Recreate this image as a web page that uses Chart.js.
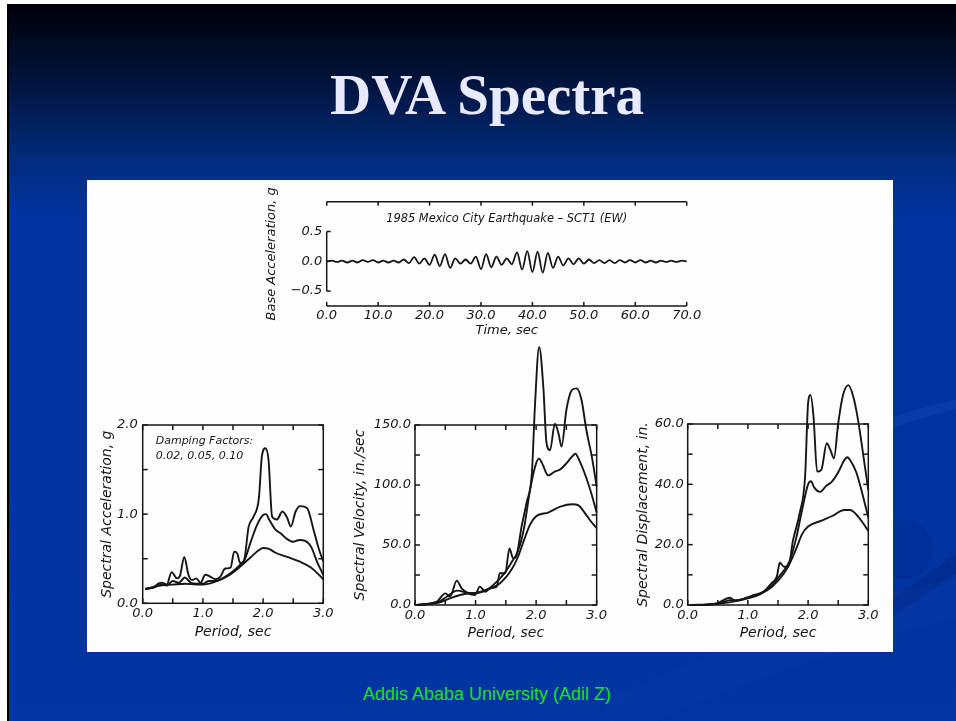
<!DOCTYPE html>
<html>
<head>
<meta charset="utf-8">
<title>DVA Spectra</title>
<script src="https://cdn.jsdelivr.net/npm/chart.js@4.4.1/dist/chart.umd.min.js"></script>
<style>
  html, body { margin: 0; padding: 0; width: 956px; height: 721px; overflow: hidden; background: #ffffff; }
  #slide {
    position: absolute; left: 7px; top: 4px; width: 947px; height: 717px;
    border-left: 2px solid #000;
    background: linear-gradient(to bottom, #00000a 0px, #010d28 50px, #021a4e 100px, #03276f 140px, #032f8a 175px, #0233a0 215px, #0234a2 100%);
    overflow: hidden;
  }
  #deco { position: absolute; left: 0; top: 0; }
  #title {
    position: absolute; left: 9px; top: 62px; width: 956px; line-height: 60px;
    text-align: center; font: bold 57px 'Liberation Serif', 'Times New Roman', serif; color: #e9e9ff;
  }
  #panel { position: absolute; left: 87px; top: 180px; width: 806px; height: 472px; background: #fefefe; }
  #footer {
    position: absolute; left: 9px; top: 684px; width: 956px; line-height: 20px;
    text-align: center; font: 18px 'Liberation Sans', Arial, sans-serif; color: #1fe01f;
  }
  canvas { position: absolute; }
</style>
</head>
<body>
<div id="slide">
  <svg id="deco" width="947" height="717">
    <path d="M 880 420 Q 920 405 960 398" stroke="rgba(60,100,200,0.15)" stroke-width="10" fill="none"/>
    <path d="M 870 610 Q 915 585 960 550" stroke="rgba(0,25,110,0.3)" stroke-width="16" fill="none"/>
    <ellipse cx="895" cy="545" rx="28" ry="30" fill="rgba(0,30,120,0.2)"/>
    <path d="M 600 717 Q 760 640 960 590" stroke="rgba(40,80,190,0.1)" stroke-width="40" fill="none"/>
  </svg>
</div>
<div id="title">DVA Spectra</div>
<div id="panel"></div>
<canvas id="cBase" width="443" height="165" style="left:262px; top:178px;"></canvas>
<canvas id="cSa" width="245" height="240" style="left:92px; top:405px;"></canvas>
<canvas id="cSv" width="265" height="310" style="left:345px; top:335px;"></canvas>
<canvas id="cSd" width="272" height="275" style="left:618px; top:370px;"></canvas>
<div id="footer">Addis Ababa University (Adil Z)</div>

<script>
// ---------- Ground motion record: 1985 Mexico City, SCT1 (EW) ----------
const accelTime = [0,1,2,3,4,5,6,7,8,9,10,11,12,13,14,15,16,17,18,19,20,21,22,23,24,25,26,27,28,29,30,31,32,33,34,35,36,37,38,39,40,41,42,43,44,45,46,47,48,49,50,51,52,53,54,55,56,57,58,59,60,61,62,63,64,65,66,67,68,69,70];
const accelValue = [0,0.01,-0.01,0.01,-0.02,0.01,-0.02,0.02,-0.01,0.02,-0.02,0.01,-0.02,0.01,-0.02,0.03,-0.03,0.07,-0.04,0.05,-0.06,0.11,-0.08,0.12,-0.11,0.05,-0.04,0.03,-0.04,0.08,-0.13,0.12,-0.10,0.08,-0.06,0.05,-0.05,0.15,-0.14,0.17,-0.18,0.16,-0.19,0.14,-0.11,0.08,-0.07,0.05,-0.05,0.05,-0.04,0.03,-0.03,0.02,-0.03,0.02,-0.03,0.02,-0.02,0.02,-0.02,0.02,-0.02,0.01,-0.02,0.01,-0.01,0.01,-0.01,0.01,0];
const timeTicks = [0,10,20,30,40,50,60,70];
const accelTicks = [-0.5,0,0.5];

// ---------- Response spectra, damping 0.02 / 0.05 / 0.10 ----------
const periodTicks = [0,0.5,1,1.5,2,2.5,3];
const periodLabels = [0,1,2,3];

// Spectral acceleration, g
const saT02 = [0.04,0.18,0.26,0.32,0.40,0.48,0.57,0.62,0.69,0.76,0.82,0.89,0.96,1.04,1.12,1.21,1.29,1.37,1.46,1.52,1.57,1.62,1.68,1.76,1.84,1.93,1.98,2.04,2.09,2.15,2.23,2.32,2.40,2.46,2.54,2.62,2.73,2.84,2.93,3.0];
const sa02 = [0.16,0.18,0.22,0.23,0.21,0.35,0.28,0.31,0.52,0.32,0.26,0.28,0.23,0.32,0.30,0.27,0.30,0.39,0.40,0.58,0.56,0.45,0.47,0.86,0.97,1.18,1.65,1.74,1.61,0.97,0.94,1.03,0.96,0.86,1.03,1.09,1.07,0.82,0.60,0.47];
const saT05 = [0.04,0.2,0.3,0.4,0.5,0.6,0.7,0.8,0.9,1.0,1.1,1.2,1.3,1.4,1.5,1.6,1.7,1.8,1.9,2.0,2.05,2.1,2.2,2.3,2.4,2.5,2.6,2.7,2.8,2.9,3.0];
const sa05 = [0.16,0.18,0.21,0.20,0.25,0.23,0.29,0.23,0.22,0.22,0.25,0.25,0.27,0.31,0.36,0.42,0.50,0.70,0.88,0.99,1.00,0.94,0.83,0.78,0.72,0.69,0.71,0.70,0.63,0.46,0.32];
const saT10 = [0.04,0.3,0.5,0.7,0.9,1.0,1.2,1.4,1.6,1.8,1.9,2.0,2.1,2.2,2.4,2.6,2.8,3.0];
const sa10 = [0.16,0.20,0.21,0.22,0.21,0.21,0.24,0.30,0.40,0.52,0.58,0.62,0.61,0.57,0.52,0.47,0.40,0.27];
const saTicks = [0,0.5,1,1.5,2];
const saLabels = [0,1,2];

// Spectral velocity, in./sec
const svT02 = [0.03,0.36,0.5,0.58,0.69,0.77,0.88,0.99,1.07,1.16,1.24,1.35,1.40,1.49,1.56,1.62,1.67,1.76,1.84,1.93,1.98,2.05,2.12,2.17,2.23,2.31,2.37,2.42,2.50,2.59,2.67,2.75,2.83,2.92,3.0];
const sv02 = [0,2.8,9.7,7,20.3,13.9,9.7,8.3,15.3,11.1,13.9,15.3,26.4,26.4,47.2,38.9,40.3,65.3,84.7,109.7,165,215,181,136,129,151,143,132,162.5,179,180.5,170.8,145.8,123.6,98.6];
const svT05 = [0.03,0.4,0.5,0.7,0.9,1.0,1.2,1.4,1.5,1.6,1.7,1.8,1.9,2.0,2.05,2.1,2.2,2.3,2.4,2.5,2.6,2.65,2.7,2.8,2.9,3.0];
const sv05 = [0,3,6,12,10,10,13,22,28,36,45,64,96,118,122,118,108,111,113,118,124,126,122,110,95,77];
const svT10 = [0.03,0.4,0.6,0.8,1.0,1.2,1.4,1.6,1.7,1.8,1.9,2.0,2.2,2.4,2.6,2.7,2.8,2.9,3.0];
const sv10 = [0,2,6,9,10,13,18,30,40,54,67,74,77,82,84,83,77,70,64];
const svTicks = [0,25,50,75,100,125,150];
const svLabels = [0,50,100,150];

// Spectral displacement, in.
const sdT02 = [0.05,0.48,0.70,0.79,0.98,1.09,1.26,1.39,1.48,1.53,1.60,1.67,1.75,1.86,1.95,2.00,2.04,2.09,2.15,2.22,2.31,2.37,2.43,2.50,2.58,2.67,2.75,2.83,2.92,3.0];
const sd02 = [0,0.5,2.4,1.4,2.4,3.3,4.4,7.2,9.4,14,12.7,12.7,21.5,30.4,42.5,66.9,69.6,62.4,44.2,44.8,53.6,51.4,48.6,60.2,69.6,72.9,69.1,61.3,49.2,38.1];
const sdT05 = [0.05,0.4,0.6,0.7,0.8,1.0,1.2,1.4,1.5,1.6,1.7,1.8,1.9,2.0,2.05,2.1,2.2,2.3,2.4,2.5,2.6,2.65,2.7,2.8,2.9,3.0];
const sd05 = [0,0.2,1,1.6,1.6,2.5,3.8,6.5,9,11.5,15,22,31.5,40,41,39,37.5,39.5,41,44,48,49,48,44,37,29];
const sdT10 = [0.05,0.4,0.8,1.0,1.2,1.4,1.6,1.7,1.8,1.9,2.0,2.2,2.4,2.6,2.7,2.8,2.9,3.0];
const sd10 = [0,0.2,1.3,2.2,3.5,6,10.5,14,18.5,23.5,26,27.8,29.5,31.5,31.5,30,27.5,24.5];
const sdTicks = [0,10,20,30,40,50,60];
const sdLabels = [0,20,40,60];

// ---------- Drawing ----------
const INK = '#161616';
const FONT = "'DejaVu Sans', 'Liberation Sans', sans-serif";
Chart.defaults.font.family = FONT;
Chart.defaults.font.style = 'italic';
Chart.defaults.color = INK;
Chart.defaults.animation = false;

const pts = (xs, ys) => xs.map((v, i) => ({ x: v, y: ys[i] }));
const fmt = v => (v < 0 ? '\u2212' + Math.abs(v).toFixed(1) : v.toFixed(1));

// Box frame with inward tick marks, plus any lettering inside the plot
const frameTicks = {
  id: 'frameTicks',
  afterDatasetsDraw(chart, _args, o) {
    const { ctx, chartArea: a, scales: { x, y } } = chart;
    const t = o.tick || 5;
    ctx.save();
    ctx.strokeStyle = INK;
    ctx.lineWidth = 1.5;
    const seg = (x1, y1, x2, y2) => { ctx.beginPath(); ctx.moveTo(x1, y1); ctx.lineTo(x2, y2); ctx.stroke(); };
    if (o.open) {
      seg(a.left, a.top, a.right, a.top);
      seg(a.left, a.bottom, a.right, a.bottom);
      seg(a.left, y.getPixelForValue(o.leftFrom), a.left, y.getPixelForValue(o.leftTo));
    } else {
      ctx.strokeRect(a.left, a.top, a.right - a.left, a.bottom - a.top);
    }
    x.ticks.forEach(tk => {
      const px = x.getPixelForValue(tk.value);
      seg(px, a.bottom, px, a.bottom - t);
      seg(px, a.top, px, a.top + t);
    });
    y.ticks.forEach(tk => {
      const py = y.getPixelForValue(tk.value);
      seg(a.left, py, a.left + t, py);
      if (!o.open) seg(a.right, py, a.right - t, py);
    });
    (o.notes || []).forEach(n => {
      ctx.font = n.font;
      ctx.fillStyle = INK;
      ctx.textAlign = n.align || 'left';
      ctx.textBaseline = 'middle';
      ctx.fillText(n.text, a.left + n.dx, a.top + n.dy);
    });
    ctx.restore();
  }
};

function curve(data, width) {
  return {
    data, borderColor: INK, borderWidth: width || 1.9, pointRadius: 0,
    cubicInterpolationMode: 'monotone', clip: false, fill: false
  };
}

function buildChart(id, L) {
  return new Chart(document.getElementById(id), {
    type: 'line',
    data: { datasets: L.datasets },
    plugins: [frameTicks],
    options: {
      responsive: false,
      devicePixelRatio: 1,
      events: [],
      layout: { padding: { left: 0, top: L.padTop, right: L.padRight, bottom: 0 } },
      plugins: {
        legend: { display: false },
        tooltip: { enabled: false },
        frameTicks: L.frame
      },
      scales: {
        x: {
          type: 'linear', min: L.xMin, max: L.xMax,
          grid: { display: false, drawTicks: false }, border: { display: false },
          afterBuildTicks: s => { s.ticks = L.xTicks.map(v => ({ value: v })); },
          afterFit: s => { s.height = L.xHeight; },
          ticks: {
            padding: L.xTickPad, maxRotation: 0, autoSkip: false,
            font: { size: L.tickSize, style: 'italic' },
            callback: v => (L.xLabels.includes(v) ? fmt(v) : '')
          },
          title: {
            display: true, text: L.xTitle,
            font: { size: L.titleSize, style: 'italic' },
            padding: { top: 0, bottom: L.xTitlePad }
          }
        },
        y: {
          type: 'linear', min: L.yMin, max: L.yMax,
          grid: { display: false, drawTicks: false }, border: { display: false },
          afterBuildTicks: s => { s.ticks = L.yTicks.map(v => ({ value: v })); },
          afterFit: s => { s.width = L.yWidth; },
          ticks: {
            padding: L.yTickPad, autoSkip: false,
            font: { size: L.tickSize, style: 'italic' },
            callback: v => (L.yLabels.includes(v) ? fmt(v) : '')
          },
          title: {
            display: true, text: L.yTitle,
            font: { size: L.titleSize, style: 'italic' },
            padding: { top: L.yTitlePad, bottom: 0 }
          }
        }
      }
    }
  });
}

const noteFont = "italic 11px " + FONT;
const headFont = "italic 11.4px " + FONT;

// Base acceleration time history
buildChart('cBase', {
  datasets: [curve(pts(accelTime, accelValue), 1.8)],
  xMin: 0, xMax: 70, xTicks: timeTicks, xLabels: timeTicks,
  yMin: -0.75, yMax: 1.0, yTicks: accelTicks, yLabels: accelTicks,
  xTitle: 'Time, sec', yTitle: 'Base Acceleration, g',
  padTop: 23.7, padRight: 18.3, yWidth: 64.7, xHeight: 37,
  tickSize: 13, titleSize: 13, xTickPad: 2, yTickPad: 4.5, xTitlePad: 4.2, yTitlePad: 2.2,
  frame: {
    open: true, leftFrom: -0.5, leftTo: 0.5, tick: 4,
    notes: [{ text: '1985 Mexico City Earthquake \u2013 SCT1 (EW)', dx: 180, dy: 17.5, align: 'center', font: headFont }]
  }
});

// Spectral acceleration
buildChart('cSa', {
  datasets: [curve(pts(saT02, sa02)), curve(pts(saT05, sa05)), curve(pts(saT10, sa10))],
  xMin: 0, xMax: 3, xTicks: periodTicks, xLabels: periodLabels,
  yMin: 0, yMax: 2, yTicks: saTicks, yLabels: saLabels,
  xTitle: 'Period, sec', yTitle: 'Spectral Acceleration, g',
  padTop: 20, padRight: 13.7, yWidth: 50.7, xHeight: 41.7,
  tickSize: 13, titleSize: 14, xTickPad: 3, yTickPad: 5, xTitlePad: 4.6, yTitlePad: 6.6,
  frame: {
    notes: [
      { text: 'Damping Factors:', dx: 13, dy: 16, font: noteFont },
      { text: '0.02, 0.05, 0.10', dx: 13, dy: 31, font: noteFont }
    ]
  }
});

// Spectral velocity
buildChart('cSv', {
  datasets: [curve(pts(svT02, sv02)), curve(pts(svT05, sv05)), curve(pts(svT10, sv10))],
  xMin: 0, xMax: 3, xTicks: periodTicks, xLabels: periodLabels,
  yMin: 0, yMax: 150, yTicks: svTicks, yLabels: svLabels,
  xTitle: 'Period, sec', yTitle: 'Spectral Velocity, in./sec',
  padTop: 90, padRight: 13.3, yWidth: 70, xHeight: 40,
  tickSize: 13, titleSize: 14, xTickPad: 3, yTickPad: 4, xTitlePad: 3, yTitlePad: 6.6,
  frame: {}
});

// Spectral displacement
buildChart('cSd', {
  datasets: [curve(pts(sdT02, sd02)), curve(pts(sdT05, sd05)), curve(pts(sdT10, sd10))],
  xMin: 0, xMax: 3, xTicks: periodTicks, xLabels: periodLabels,
  yMin: 0, yMax: 60, yTicks: sdTicks, yLabels: sdLabels,
  xTitle: 'Period, sec', yTitle: 'Spectral Displacement, in.',
  padTop: 54, padRight: 21.7, yWidth: 69.7, xHeight: 40,
  tickSize: 13, titleSize: 14, xTickPad: 3, yTickPad: 4, xTitlePad: 3, yTitlePad: 16.6,
  frame: {}
});
</script>
</body>
</html>
